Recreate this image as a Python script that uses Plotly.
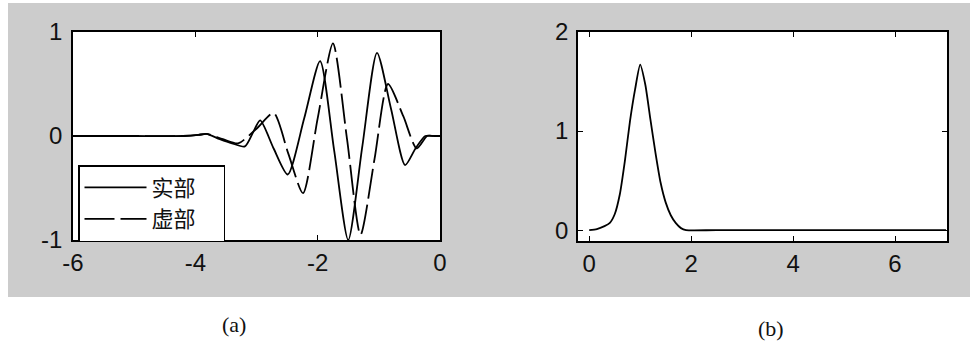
import plotly.graph_objects as go

# ---------------- data ----------------
# (a) wavelet: real part (solid) and imaginary part (dashed)
x_real = [-6.0, -5.0, -4.2, -3.95, -3.82, -3.6, -3.4, -3.19, -3.06, -2.94, -2.72, -2.49,
          -2.22, -1.96, -1.73, -1.5, -1.27, -1.03, -0.8, -0.57, -0.4, -0.24, -0.1, 0.0]
y_real = [0.0, 0.0, 0.0, 0.01, 0.02, -0.03, -0.07, -0.10, 0.03, 0.15, -0.12, -0.37,
          0.17, 0.72, -0.14, -1.0, -0.10, 0.80, 0.26, -0.28, -0.12, 0.0, 0.0, 0.0]

x_imag = [-6.0, -5.0, -4.2, -3.95, -3.82, -3.55, -3.3, -3.0, -2.72, -2.48, -2.24, -2.0,
          -1.75, -1.52, -1.3, -1.07, -0.85, -0.6, -0.38, -0.21, -0.1, 0.0]
y_imag = [0.0, 0.0, 0.0, 0.01, 0.02, -0.03, -0.07, 0.07, 0.22, -0.17, -0.55, 0.17,
          0.89, -0.03, -0.95, -0.22, 0.50, 0.19, -0.12, 0.0, 0.0, 0.0]

# (b) spectrum
x_spec = [0.0, 0.15, 0.3, 0.4, 0.5, 0.6, 0.7, 0.8, 0.9, 1.0, 1.1, 1.2, 1.3, 1.4,
          1.5, 1.6, 1.7, 1.8, 1.9, 2.5, 7.0]
y_spec = [0.0, 0.01, 0.04, 0.07, 0.16, 0.36, 0.70, 1.10, 1.42, 1.67, 1.47, 1.12, 0.78,
          0.48, 0.28, 0.15, 0.07, 0.02, 0.0, 0.0, 0.0]

x_ticks_a = [-6, -4, -2, 0]
x_ticktext_a = ["-6", "-4", "-2", "0"]
y_ticks_a = [-1, 0, 1]
y_ticktext_a = ["-1", "0", "1"]
x_ticks_b = [0, 2, 4, 6]
y_ticks_b = [0, 1, 2]
legend_names = ["实部", "虚部"]
panel_labels = ["(a)", "(b)"]

# ---------------- layout helpers ----------------
W, H = 980, 343


def fx(p):
    return p / W


def fy(p):
    return 1 - p / H


fig = go.Figure()
fig.add_trace(go.Scatter(
    x=x_real, y=y_real, mode="lines", name=legend_names[0] + "\u2003",
    line=dict(color="black", width=1.8, shape="spline", smoothing=0.7),
    xaxis="x", yaxis="y"))
fig.add_trace(go.Scatter(
    x=x_imag, y=y_imag, mode="lines", name=legend_names[1] + "\u2003",
    line=dict(color="black", width=1.8, shape="spline", smoothing=0.7, dash="30px,6px"),
    xaxis="x", yaxis="y"))
fig.add_trace(go.Scatter(
    x=x_spec, y=y_spec, mode="lines", showlegend=False,
    line=dict(color="black", width=1.8, shape="spline", smoothing=0.6),
    xaxis="x2", yaxis="y2"))

tickfont = dict(family="Liberation Sans, Arial, sans-serif", size=24, color="#111111")
common = dict(showline=True, linecolor="black", linewidth=1.8, mirror="ticks",
              ticks="inside", ticklen=5, tickwidth=1.2, tickcolor="black",
              showgrid=False, zeroline=False, tickfont=tickfont, automargin=False)

fig.update_layout(
    width=W, height=H,
    margin=dict(l=0, r=0, t=0, b=0),
    paper_bgcolor="white",
    plot_bgcolor="white",
    xaxis=dict(domain=[fx(73), fx(440)], range=[-6, 0], tickvals=x_ticks_a,
               ticktext=x_ticktext_a, anchor="y", **common),
    yaxis=dict(domain=[fy(240), fy(32)], range=[-1, 1], tickvals=y_ticks_a,
               ticktext=y_ticktext_a, anchor="x", ticklabelstandoff=4, **common),
    xaxis2=dict(domain=[fx(578), fx(947)], range=[-0.22, 7.02], tickvals=x_ticks_b,
                anchor="y2", **common),
    yaxis2=dict(domain=[fy(241), fy(32)], range=[-0.11, 2], tickvals=y_ticks_b,
                anchor="x2", ticklabelstandoff=3, **common),
    legend=dict(x=fx(78), y=fy(165), xanchor="left", yanchor="top",
                bgcolor="white", bordercolor="black", borderwidth=1.5,
                font=dict(family="Noto Sans CJK SC", size=22, color="#111111"),
                itemwidth=62, tracegroupgap=0),
    showlegend=True,
    shapes=[
        dict(type="rect", xref="paper", yref="paper", x0=fx(8), x1=fx(970),
             y0=fy(297), y1=fy(3), fillcolor="#cccccc", line=dict(width=0), layer="below"),
        dict(type="rect", xref="paper", yref="paper", x0=fx(73), x1=fx(440),
             y0=fy(240), y1=fy(32), fillcolor="white", line=dict(width=0), layer="below"),
        dict(type="rect", xref="paper", yref="paper", x0=fx(578), x1=fx(947),
             y0=fy(241), y1=fy(32), fillcolor="white", line=dict(width=0), layer="below"),
    ],
    annotations=[
        dict(text=panel_labels[0], x=fx(234), y=fy(324), xref="paper", yref="paper",
             xanchor="center", yanchor="middle", showarrow=False,
             font=dict(family="Liberation Serif, Times New Roman, serif",
                       size=22, color="#111111")),
        dict(text=panel_labels[1], x=fx(771), y=fy(328), xref="paper", yref="paper",
             xanchor="center", yanchor="middle", showarrow=False,
             font=dict(family="Liberation Serif, Times New Roman, serif",
                       size=22, color="#111111")),
    ],
)

fig.write_html("out.html")
